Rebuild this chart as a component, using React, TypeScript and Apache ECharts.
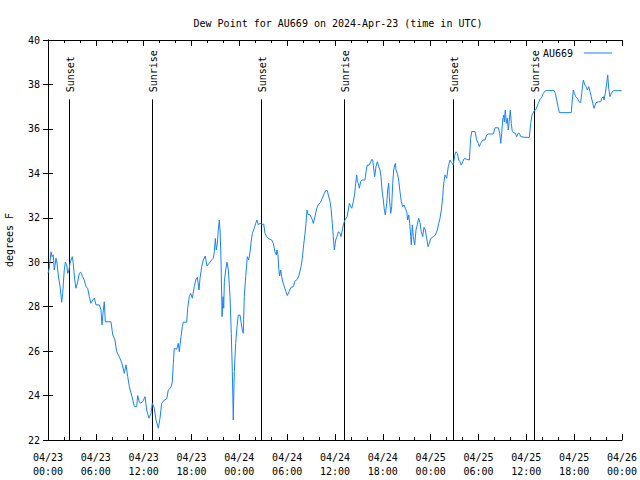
import React, { useEffect, useRef } from "react";
import * as echarts from "echarts";

const TITLE = "Dew Point for AU669 on 2024-Apr-23 (time in UTC)";
const SERIES_NAME = "AU669";
const Y_NAME = "degrees F";
const DAY_LABELS = ["04/23", "04/24", "04/25", "04/26"];

// [hours since 2024-04-23 00:00 UTC, dew point °F]
const dewPoint: [number, number][] = [
  [0, 29.5], [0.16, 29.73], [0.38, 30.47], [0.5, 30.25], [0.66, 30.33], [0.79, 29.65], [1.0, 30.18], [1.13, 29.96],
  [1.34, 29.29], [1.51, 28.9], [1.72, 28.2], [1.84, 28.6], [2.04, 29.65], [2.17, 30.0], [2.35, 29.88], [2.47, 29.5],
  [2.6, 29.6], [2.76, 29.95], [2.89, 30.1], [3.05, 30.25], [3.17, 29.95], [3.35, 29.2], [3.51, 28.83], [3.73, 29.12],
  [3.93, 29.5], [4.1, 29.55], [4.35, 29.35], [4.55, 29.2], [4.77, 28.9], [4.98, 28.83], [5.18, 28.45], [5.39, 28.15],
  [5.61, 28.3], [5.81, 28.38], [6.02, 28.08], [6.44, 28.08], [6.65, 27.85], [6.77, 27.18], [6.94, 27.85], [7.06, 28.22],
  [7.19, 27.32], [7.9, 27.32], [8.12, 26.73], [8.4, 26.5], [8.62, 25.97], [8.94, 25.75], [9.28, 25.45], [9.57, 25.0],
  [9.78, 25.38], [10.0, 24.85], [10.2, 24.4], [10.54, 23.95], [10.83, 23.5], [11.13, 23.5], [11.25, 24.0], [11.45, 23.72],
  [11.58, 23.65], [11.88, 23.72], [12.17, 23.95], [12.38, 23.35], [12.67, 22.98], [12.92, 23.2], [13.08, 23.65], [13.33, 23.43],
  [13.55, 22.9], [13.84, 22.53], [14.05, 22.98], [14.26, 23.65], [14.59, 23.8], [14.89, 23.85], [15.09, 24.25], [15.43, 24.37],
  [15.59, 24.62], [15.72, 25.45], [15.84, 26.12], [16.14, 26.08], [16.34, 26.35], [16.47, 25.97], [16.68, 26.65], [16.85, 27.1],
  [16.97, 27.3], [17.4, 27.3], [17.52, 27.93], [17.72, 28.45], [17.9, 28.6], [18.1, 28.38], [18.35, 28.9], [18.53, 29.2],
  [18.73, 29.32], [18.94, 28.75], [19.07, 29.27], [19.28, 29.8], [19.48, 30.1], [19.73, 30.28], [19.94, 29.83], [20.2, 29.95],
  [20.53, 30.1], [20.73, 30.18], [20.86, 30.47], [20.99, 31.07], [21.11, 30.55], [21.24, 30.85], [21.36, 31.45], [21.49, 31.9],
  [21.58, 31.45], [21.7, 30.18], [21.83, 27.55], [21.95, 28.45], [22.04, 27.93], [22.12, 29.12], [22.29, 29.65], [22.45, 30.0],
  [22.62, 29.65], [22.83, 28.45], [22.99, 26.8], [23.12, 25.08], [23.24, 22.9], [23.37, 25.08], [23.54, 26.35], [23.71, 27.1],
  [23.87, 27.62], [24.08, 27.62], [24.21, 27.32], [24.37, 26.95], [24.5, 26.8], [24.62, 28.45], [24.8, 29.35], [25.0, 30.25],
  [25.17, 30.1], [25.38, 30.55], [25.46, 30.85], [25.63, 31.3], [25.88, 31.53], [26.05, 31.75], [26.21, 31.9], [26.38, 31.68],
  [26.59, 31.75], [26.88, 31.7], [27.06, 31.72], [27.22, 31.3], [27.43, 31.15], [27.72, 31.05], [28.06, 31.0], [28.26, 30.85],
  [28.47, 30.47], [28.64, 30.33], [28.72, 30.55], [28.85, 30.33], [28.94, 29.73], [29.06, 29.38], [29.19, 29.65], [29.39, 29.2],
  [29.64, 28.9], [29.85, 28.67], [30.02, 28.5], [30.23, 28.67], [30.48, 28.87], [30.77, 28.9], [30.98, 29.15], [31.27, 29.23],
  [31.49, 29.42], [31.74, 29.8], [31.9, 30.18], [32.07, 30.78], [32.24, 31.3], [32.36, 31.75], [32.49, 32.35], [32.61, 32.15],
  [32.87, 32.13], [33.08, 31.98], [33.28, 31.75], [33.49, 32.05], [33.71, 32.43], [33.91, 32.6], [34.16, 32.68], [34.41, 32.88],
  [34.66, 33.1], [34.83, 33.22], [35.04, 33.22], [35.16, 33.03], [35.34, 32.8], [35.5, 32.43], [35.66, 31.75], [35.79, 31.15],
  [35.91, 30.55], [36.09, 31.0], [36.25, 31.15], [36.42, 31.37], [36.63, 31.3], [36.75, 31.15], [36.92, 31.45], [37.09, 31.75],
  [37.26, 31.9], [37.51, 32.05], [37.67, 32.35], [37.8, 32.65], [37.97, 32.5], [38.1, 32.43], [38.3, 32.72], [38.47, 33.1],
  [38.6, 33.55], [38.72, 33.93], [38.8, 33.63], [38.92, 33.55], [39.05, 33.33], [39.22, 33.63], [39.35, 33.7], [39.76, 33.7],
  [39.89, 34.07], [40.05, 34.37], [40.3, 34.37], [40.48, 34.52], [40.61, 34.63], [40.73, 34.6], [40.8, 34.37], [40.98, 33.85],
  [41.14, 34.3], [41.31, 34.52], [41.48, 34.3], [41.65, 34.15], [41.77, 33.85], [41.9, 33.25], [42.06, 32.8], [42.19, 32.35],
  [42.31, 32.13], [42.49, 32.65], [42.61, 33.25], [42.74, 33.55], [42.81, 32.95], [42.99, 32.2], [43.11, 32.5], [43.24, 33.55],
  [43.36, 34.15], [43.49, 34.37], [43.57, 34.45], [43.65, 34.15], [43.82, 34.0], [43.99, 33.7], [44.15, 33.18], [44.32, 32.72],
  [44.5, 32.5], [44.66, 32.58], [44.82, 32.43], [45.0, 32.27], [45.12, 31.9], [45.25, 32.13], [45.37, 31.75], [45.5, 31.15],
  [45.57, 30.78], [45.7, 31.68], [45.82, 31.15], [46.0, 30.78], [46.16, 31.45], [46.32, 31.68], [46.5, 31.98], [46.66, 31.78],
  [46.83, 31.37], [47.0, 31.15], [47.16, 31.57], [47.33, 31.45], [47.5, 31.07], [47.67, 30.7], [47.83, 30.85], [48.01, 31.07],
  [48.33, 31.15], [48.58, 31.22], [48.83, 31.45], [49.01, 31.75], [49.17, 31.98], [49.34, 32.35], [49.51, 32.95], [49.59, 33.33],
  [49.67, 33.63], [49.8, 33.93], [50.01, 33.78], [50.21, 34.3], [50.43, 34.6], [50.64, 34.48], [50.84, 34.37], [51.02, 34.82],
  [51.18, 34.97], [51.34, 34.9], [51.52, 34.6], [51.68, 34.52], [51.84, 34.37], [52.02, 34.52], [52.22, 34.67], [52.52, 34.63],
  [52.85, 34.6], [53.02, 35.58], [53.15, 35.88], [53.56, 35.88], [53.78, 35.5], [53.98, 35.35], [54.1, 35.2], [54.28, 35.35],
  [54.53, 35.5], [54.82, 35.5], [55.03, 35.73], [55.23, 35.77], [55.86, 35.77], [56.07, 36.05], [56.49, 36.05], [56.66, 35.8],
  [56.79, 35.35], [56.91, 35.8], [57.04, 36.4], [57.16, 36.62], [57.24, 36.32], [57.36, 36.85], [57.49, 36.25], [57.61, 36.48],
  [57.74, 35.95], [57.86, 36.4], [57.99, 36.85], [58.11, 36.25], [58.24, 35.88], [58.45, 35.83], [58.62, 35.8], [58.79, 35.65],
  [58.96, 35.8], [59.12, 35.8], [59.3, 35.65], [59.83, 35.62], [60.37, 35.62], [60.55, 36.25], [60.71, 36.62], [60.96, 36.8],
  [61.21, 36.88], [61.5, 37.15], [61.72, 37.33], [61.93, 37.42], [62.13, 37.6], [62.34, 37.7], [62.55, 37.73], [63.47, 37.73],
  [63.64, 37.6], [63.81, 37.3], [64.01, 36.93], [64.14, 36.73], [64.85, 36.73], [65.64, 36.73], [65.77, 37.3], [65.89, 37.75],
  [66.02, 37.6], [66.19, 37.45], [66.4, 37.38], [66.61, 37.22], [66.82, 37.18], [66.95, 37.6], [67.07, 37.98], [67.15, 38.2],
  [67.33, 37.98], [67.49, 37.9], [67.65, 37.75], [67.83, 37.9], [67.99, 37.68], [68.15, 37.45], [68.33, 37.15], [68.49, 36.93],
  [68.74, 37.18], [69.08, 37.22], [69.33, 37.22], [69.46, 37.38], [69.66, 37.45], [69.74, 37.3], [69.91, 37.6], [70.08, 38.05],
  [70.21, 38.43], [70.33, 37.83], [70.5, 37.45], [70.66, 37.6], [70.91, 37.72], [71.96, 37.72],
];

// Sun events, hours since 2024-04-23 00:00 UTC
const eventHours = [2.67, 13.08, 26.72, 37.09, 50.84, 61.0];
const eventLabels = ["Sunset", "Sunrise", "Sunset", "Sunrise", "Sunset", "Sunrise"];

const FONT = "'DejaVu Sans Mono', 'Liberation Mono', monospace";
const LINE_TOP = 37.33;
const LINE_BOTTOM = 22;
const LINE_COLOR = "#1683ff";

export default function App() {
  const ref = useRef<HTMLDivElement>(null);
  useEffect(() => {
    if (!ref.current) return;
    const chart = echarts.init(ref.current, null, { renderer: "svg" });
    const fmtX = (v: number) => {
      const day = Math.floor(v / 24);
      const hh = Math.round(v - day * 24);
      return `${DAY_LABELS[day]}\n${hh < 10 ? "0" + hh : hh}:00`;
    };
    const axisCommonX = {
      type: "value",
      min: 0,
      max: 72,
      interval: 6,
      axisLine: { show: true, lineStyle: { color: "#000", width: 1 } },
      axisTick: { show: true, inside: true, length: 6, lineStyle: { color: "#000" } },
      minorTick: { show: true, splitNumber: 3, length: 3, lineStyle: { color: "#000" } },
      splitLine: { show: false },
      minorSplitLine: { show: false },
    };
    const axisCommonY = {
      type: "value",
      min: 22,
      max: 40,
      interval: 2,
      axisLine: { show: true, lineStyle: { color: "#000", width: 1 } },
      axisTick: { show: true, inside: true, length: 5, lineStyle: { color: "#000" } },
      splitLine: { show: false },
    };
    chart.setOption({
      animation: false,
      backgroundColor: "#fff",
      textStyle: { fontFamily: FONT },
      title: {
        text: TITLE,
        left: 333,
        top: 13,
        textAlign: "center",
        textStyle: { fontFamily: FONT, fontSize: 10, fontWeight: "normal", color: "#000" },
      },
      legend: {
        data: [{ name: SERIES_NAME, icon: "rect" }],
        right: 28,
        top: 48,
        padding: 0,
        align: "right",
        itemWidth: 28,
        itemHeight: 1,
        textStyle: { fontFamily: FONT, fontSize: 10, color: "#000", padding: [0, 6, 0, 0] },
      },
      grid: { left: 48, right: 18, top: 40, bottom: 40, outerBoundsMode: "none", containLabel: false },
      xAxis: [
        {
          ...axisCommonX,
          position: "bottom",
          axisLabel: {
            color: "#000",
            fontFamily: FONT,
            fontSize: 10,
            lineHeight: 14,
            margin: 10,
            formatter: fmtX,
          },
        },
        {
          ...axisCommonX,
          position: "top",
          axisLabel: { show: false },
        },
      ],
      yAxis: [
        {
          ...axisCommonY,
          position: "left",
          name: Y_NAME,
          nameLocation: "middle",
          nameGap: 34,
          nameRotate: 90,
          nameTextStyle: { color: "#000", fontFamily: FONT, fontSize: 10 },
          axisLabel: { color: "#000", fontFamily: FONT, fontSize: 10, margin: 8 },
        },
        {
          ...axisCommonY,
          position: "right",
          axisLabel: { show: false },
        },
      ],
      series: [
        {
          type: "custom",
          name: "sun",
          xAxisIndex: 0,
          yAxisIndex: 0,
          silent: true,
          z: 1,
          data: eventHours.map((h) => [h, LINE_BOTTOM]),
          renderItem: (params: any, api: any) => {
            const h = api.value(0);
            const top = api.coord([h, LINE_TOP]);
            const bot = api.coord([h, LINE_BOTTOM]);
            const x = Math.round(top[0]) + 0.5;
            return {
              type: "group",
              children: [
                {
                  type: "line",
                  shape: { x1: x, y1: top[1], x2: x, y2: bot[1] },
                  style: { stroke: "#000", lineWidth: 1 },
                },
                {
                  type: "text",
                  x: x + 1,
                  y: top[1] - 7,
                  rotation: Math.PI / 2,
                  style: {
                    text: eventLabels[params.dataIndex],
                    fill: "#000",
                    font: `10px ${FONT}`,
                    align: "left",
                    verticalAlign: "middle",
                  },
                },
              ],
            };
          },
        },
        {
          type: "line",
          name: SERIES_NAME,
          xAxisIndex: 0,
          yAxisIndex: 0,
          data: dewPoint,
          symbol: "none",
          showSymbol: false,
          z: 2,
          lineStyle: { color: LINE_COLOR, width: 1 },
          itemStyle: { color: LINE_COLOR },
        },
      ],
    });
    return () => chart.dispose();
  }, []);
  return (
    <div
      ref={ref}
      style={{ position: "fixed", left: 0, top: 0, width: 640, height: 480, background: "#fff" }}
    />
  );
}
